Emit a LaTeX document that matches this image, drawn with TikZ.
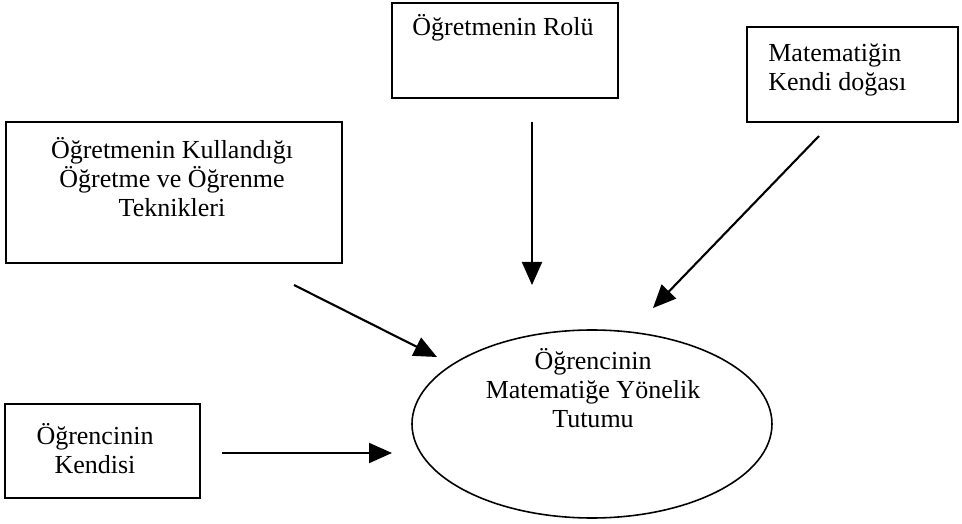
\documentclass[tikz,border=0pt]{standalone}
\usepackage{fontspec}
\setmainfont{Liberation Serif}
\usetikzlibrary{arrows.meta,shapes.geometric}
\tikzset{
	kutu/.style={draw, line width=1.2pt, inner sep=0pt},
	ok/.style={-{Triangle[length=0.46cm,width=0.40cm]}, line width=1.2pt},
	yazi/.style={font=\fontsize{14.8}{16.5}\selectfont, inner sep=0pt}
}
\begin{document}
\begin{tikzpicture}
		\useasboundingbox (0,0) rectangle (19.24,-10.48);
		% kutular
		\node[kutu, minimum width=4.52cm, minimum height=1.90cm] (rol) at (10.10,-1.01) {};
		\node[yazi, anchor=west] (roltext) at (8.24,-0.56) {Öğretmenin Rolü};
		\node[kutu, minimum width=4.22cm, minimum height=1.90cm] (doga) at (17.05,-1.49) {};
		\node[yazi, anchor=west, align=left] (dogatext) at (15.36,-1.40) {Matematiğin\\Kendi doğası};
		\node[kutu, minimum width=6.72cm, minimum height=2.82cm] (teknik) at (3.48,-3.85) {};
		\node[yazi, align=center] (teknitext) at (3.44,-3.54) {Öğretmenin Kullandığı\\Öğretme ve Öğrenme\\Teknikleri};
		\node[kutu, minimum width=3.90cm, minimum height=1.88cm] (kendi) at (2.05,-9.02) {};
		\node[yazi, align=center] (kenditext) at (1.90,-8.97) {Öğrencinin\\Kendisi};
		\node[draw, ellipse, line width=0.9pt, minimum width=7.2cm, minimum height=3.76cm] (tutum) at (11.84,-8.48) {};
		\node[yazi, align=center] (tutumtext) at (11.86,-7.76) {Öğrencinin\\Matematiğe Yönelik\\Tutumu};
		% oklar
		\coordinate (r1) at (10.64,-2.44);
		\coordinate (r2) at (10.64,-5.70);
		\coordinate (d1) at (16.38,-2.72);
		\coordinate (d2) at (13.06,-6.16);
		\coordinate (t1) at (5.88,-5.70);
		\coordinate (t2) at (8.74,-7.14);
		\coordinate (k1) at (4.44,-9.06);
		\coordinate (k2) at (7.84,-9.06);
		\draw[ok] (r1) -- (r2);
		\draw[ok] (d1) -- (d2);
		\draw[ok] (t1) -- (t2);
		\draw[ok] (k1) -- (k2);
\end{tikzpicture}
\end{document}
